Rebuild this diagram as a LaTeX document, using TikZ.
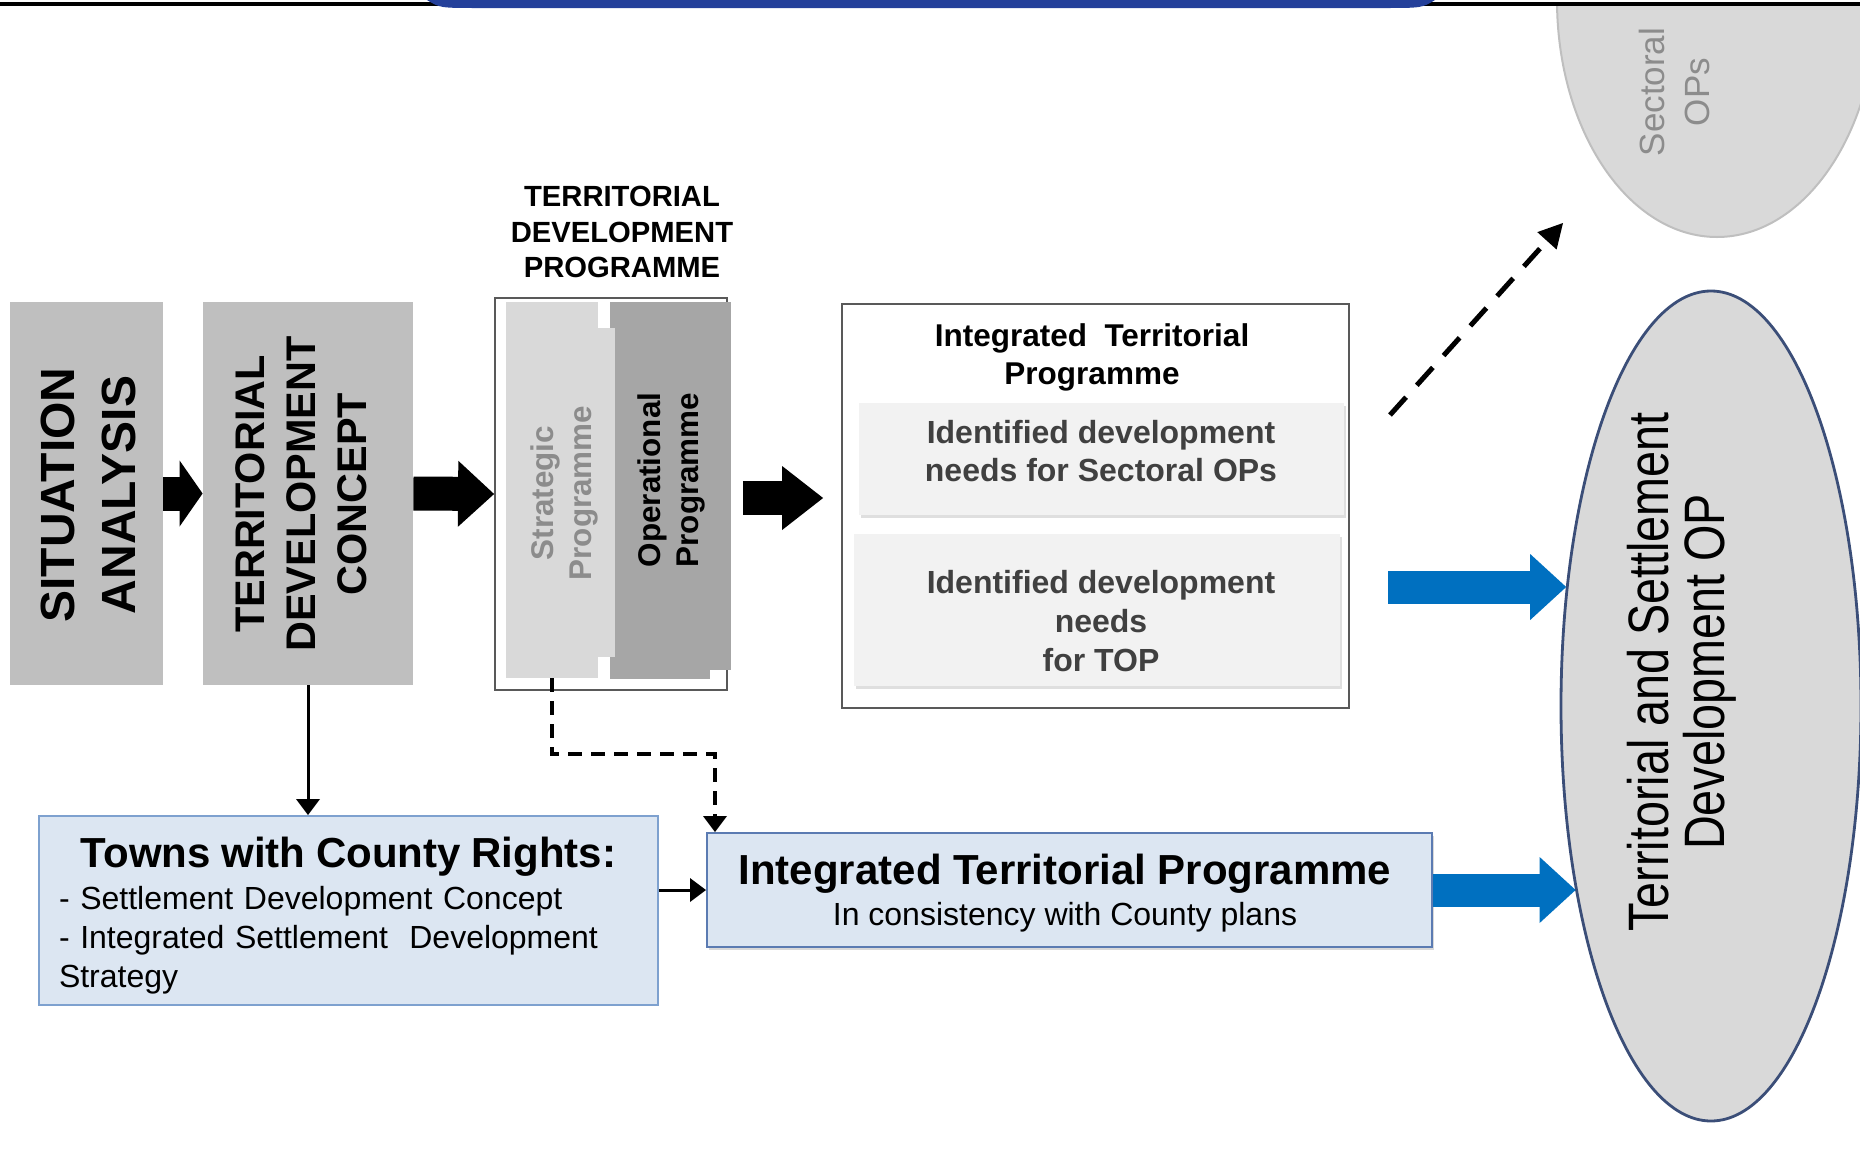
\documentclass[tikz,border=0pt]{standalone}
\usepackage{fontspec}
\setmainfont{Liberation Sans}
\newfontfamily\narrowfont{Liberation Sans}[FakeStretch=0.82]
\usetikzlibrary{arrows.meta,shapes.geometric,shadows}

\definecolor{boxgray}{HTML}{BFBFBF}
\definecolor{softgray}{HTML}{D9D9D9}
\definecolor{midgray}{HTML}{A6A6A6}
\definecolor{palegray}{HTML}{F2F2F2}
\definecolor{textgray}{HTML}{404040}
\definecolor{fadegray}{HTML}{8C8C8C}
\definecolor{framegray}{HTML}{595959}
\definecolor{paleblue}{HTML}{DCE6F2}
\definecolor{edgeblue}{HTML}{7EA1CF}
\definecolor{deepedge}{HTML}{5B7BB2}
\definecolor{arrowblue}{HTML}{0070C0}
\definecolor{slate}{HTML}{3B4E78}
\definecolor{bandblue}{HTML}{24409A}

\begin{document}
\begin{tikzpicture}[x=0.5pt,y=-0.5pt,every node/.style={inner sep=0pt}]
  \tikzstyle{gray box}=[rectangle, fill=boxgray]
  \tikzstyle{block}=[line width=17pt, -{Triangle[length=11.5pt, width=33pt, line width=0pt]}]
  \tikzstyle{blue block}=[arrowblue, line width=16.5pt, -{Triangle[length=18pt, width=33pt, line width=0pt]}]
  \tikzstyle{link}=[line width=1.5pt, -{Triangle[length=8pt, width=12pt, line width=0pt]}]
  \tikzstyle{dash link}=[link, line width=2pt, dash pattern=on 7pt off 4.5pt]
  \tikzstyle{blue box}=[rectangle, fill=paleblue, draw=edgeblue, line width=1pt]
  \tikzstyle{need box}=[rectangle, fill=palegray, drop shadow={opacity=0.25, shadow xshift=1pt, shadow yshift=-1.5pt}]

\useasboundingbox (0,0) rectangle (1860,1163);

% sectoral OPs, cut by the top rule
\begin{scope}
  \clip (0,6) rectangle (1860,1163);
  \node [ellipse, fill=softgray, draw=boxgray, line width=1pt,
         minimum width=160pt, minimum height=237pt] (sect) at (1717,0) {};
\end{scope}
\node [rotate=90, align=center, text=fadegray,
       font=\fontsize{17.5pt}{22.5pt}\selectfont] (sect_txt) at (1674,92) {Sectoral\\OPs};

\draw [line width=2pt] (0,4) -- (1860,4);
\fill [bandblue] (427,0) .. controls (440,8) .. (480,8) -- (1382,8) .. controls (1422,8) .. (1435,0) -- cycle;

% left column
\node [gray box, minimum width=76.5pt, minimum height=191.5pt] (sa) at (86.5,493.5) {};
\node [rotate=90, align=center, font=\fontsize{24pt}{30.5pt}\selectfont\bfseries]
      (sa_txt) at (88,495) {SITUATION\\ANALYSIS};
\node [gray box, minimum width=105pt, minimum height=191.5pt] (tdc) at (308,493.5) {};
\node [rotate=90, align=center, font=\fontsize{20.7pt}{25.5pt}\selectfont\bfseries]
      (tdc_txt) at (301,494) {TERRITORIAL\\DEVELOPMENT\\CONCEPT};

% territorial development programme
\node [align=center, font=\fontsize{14.6pt}{17.75pt}\selectfont\bfseries]
      (tdp_txt) at (622,232) {TERRITORIAL\\DEVELOPMENT\\PROGRAMME};
\node [rectangle, draw=framegray, line width=0.9pt, minimum width=116pt, minimum height=196pt] (tdp) at (611,494) {};
\node [rectangle, fill=midgray, minimum width=60.5pt, minimum height=184pt] (op) at (670.5,486) {};
\node [rectangle, fill=midgray, minimum width=50pt, minimum height=4.5pt] (op_bot) at (660,674) {};
\node [rectangle, fill=softgray, minimum width=54.5pt, minimum height=164.5pt] (sp) at (560.5,492.5) {};
\node [rectangle, fill=softgray, minimum width=46pt, minimum height=13pt] (sp_top) at (552,315) {};
\node [rectangle, fill=softgray, minimum width=46pt, minimum height=10.5pt] (sp_bot) at (552,667.5) {};
\node [rotate=90, align=center, text=fadegray, font=\fontsize{15.7pt}{19pt}\selectfont\bfseries]
      (sp_txt) at (564,493) {Strategic\\Programme};
\node [rotate=90, align=center, font=\fontsize{15.7pt}{19pt}\selectfont\bfseries]
      (op_txt) at (671,480) {Operational\\Programme};

% integrated territorial programme
\node [rectangle, draw=framegray, line width=0.9pt, minimum width=253.5pt, minimum height=202pt] (itp) at (1095.5,506) {};
\node [align=center, font=\fontsize{15.75pt}{19pt}\selectfont\bfseries]
      (itp_txt) at (1092,357) {Integrated\ \ Territorial\\Programme};
\node [need box, minimum width=242.5pt, minimum height=56pt] (need1) at (1101.5,459) {};
\node [align=center, text=textgray, font=\fontsize{16pt}{19pt}\selectfont\bfseries]
      (need1_txt) at (1101,451) {Identified development\\needs for Sectoral OPs};
\node [need box, minimum width=243pt, minimum height=76pt] (need2) at (1097,610) {};
\node [align=center, text=textgray, font=\fontsize{16pt}{19.5pt}\selectfont\bfseries]
      (need2_txt) at (1101,621) {Identified development\\needs\\for TOP};

% lower row
\node [blue box, minimum width=309.5pt, minimum height=94.5pt] (towns) at (348.5,910.5) {};
\node [text width=289.5pt, align=left, font=\fontsize{16pt}{19.5pt}\selectfont] (towns_txt) at (348.5,916)
      {\makebox[289.5pt]{\fontsize{21pt}{21pt}\selectfont\bfseries Towns with County Rights:}\\[1.5pt]
       - Settlement Development Concept\\
       - Integrated Settlement\ \ Development\\
       Strategy};
\node [blue box, draw=deepedge, minimum width=362.5pt, minimum height=57pt,
       drop shadow={opacity=0.3, shadow xshift=1pt, shadow yshift=-1.5pt}] (itpb) at (1069.5,890) {};
\node [align=center, font=\fontsize{16pt}{20.5pt}\selectfont] (itpb_txt) at (1065,893)
      {{\fontsize{21pt}{21pt}\selectfont\bfseries Integrated Territorial Programme}\\In consistency with County plans};

% territorial and settlement development OP
\node [ellipse, fill=softgray, draw=slate, line width=1.4pt,
       minimum width=150pt, minimum height=415pt] (tsop) at (1711,706) {};
\node [rotate=90, align=center, font=\narrowfont\fontsize{28.5pt}{28pt}\selectfont]
      (tsop_txt) at (1682,672) {Territorial and Settlement\\Development OP};

\coordinate (b1) at (1388,587);
\coordinate (bend) at (715,754);
\coordinate (s1) at (1390,415);
\coordinate (s2) at (1563,223);

\draw [block] (sa.east) -- (tdc.west);
\draw [block, -{Triangle[length=18pt, width=33pt, line width=0pt]}] (tdc.east) -- (tdp.west);
\draw [block, -{Triangle[length=20.5pt, width=32pt, line width=0pt]}, shorten <=7.5pt, shorten >=9pt]
      ([yshift=-2pt]tdp.east) -- ([yshift=-2pt]tdp.east -| itp.west);
\draw [blue block] (b1) -- (b1 -| tsop.140);
\draw [blue block] (itpb.east) -- (itpb.east -| tsop.234);
\draw [link] (tdc.south) -- (tdc.south |- towns.north);
\draw [link] (itpb.west -| towns.east) -- (itpb.west);
\draw [dash link] (sp_bot.south) |- (bend) -- (bend |- itpb.north);
\draw [line width=2.5pt, dash pattern=on 12pt off 8pt,
       -{Triangle[length=12pt, width=13pt, line width=0pt]}] (s1) -- (s2);

\end{tikzpicture}
\end{document}
